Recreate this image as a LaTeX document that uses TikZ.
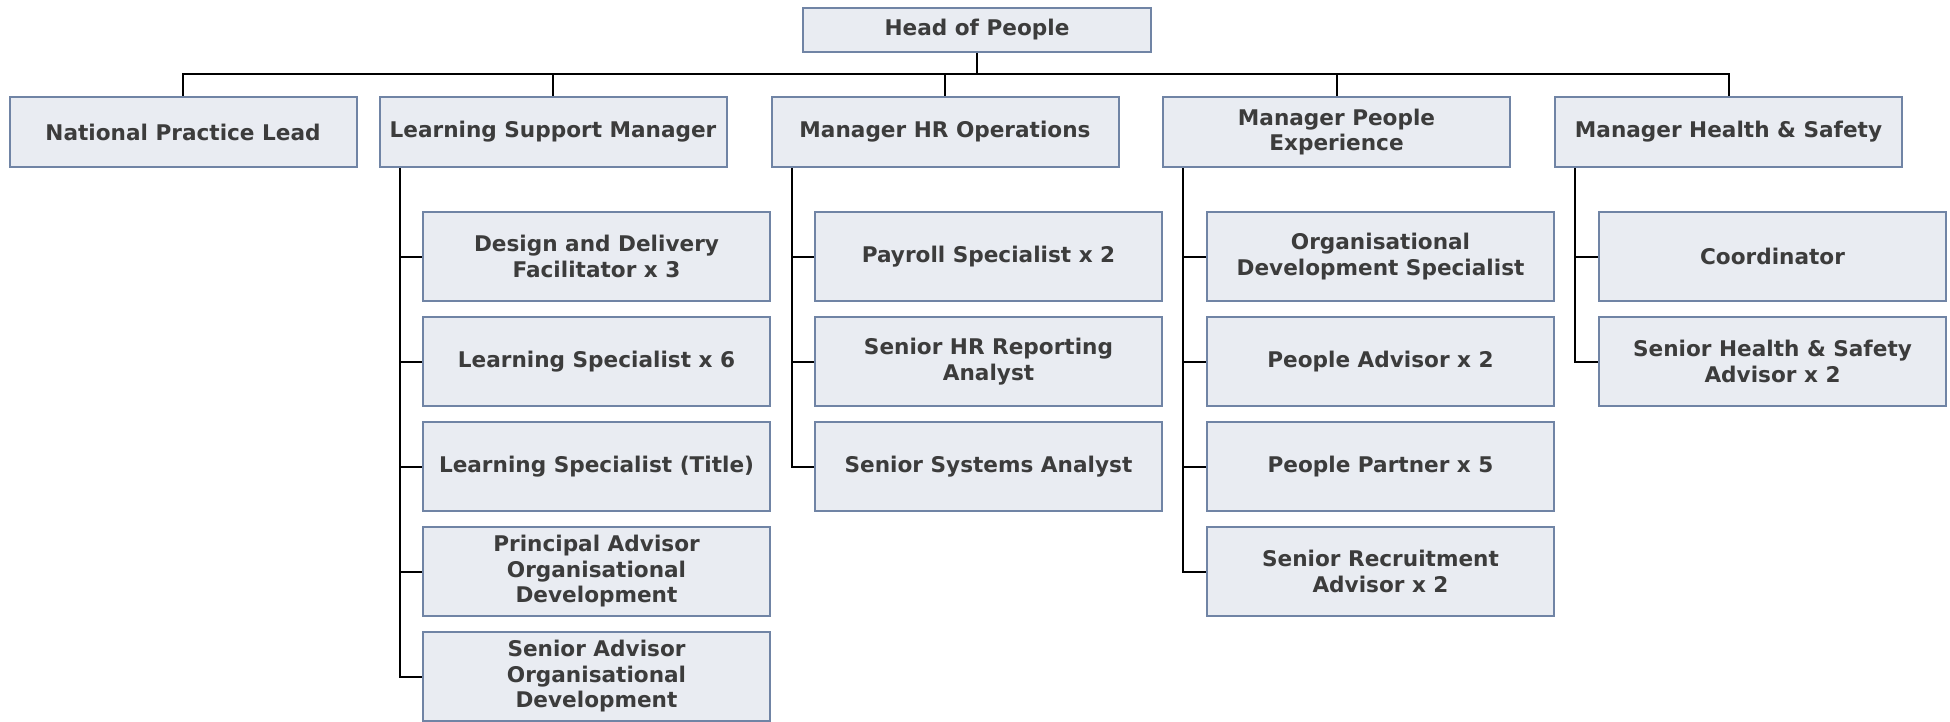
\documentclass[tikz,border=0pt]{standalone}
\usepackage{fontspec}
\setmainfont{DejaVu Sans}
\usetikzlibrary{positioning}
\definecolor{boxfill}{HTML}{E9ECF2}
\definecolor{boxline}{HTML}{7084A5}
\definecolor{boxtext}{HTML}{3C3C3C}
\tikzset{
  orgbox/.style={draw=boxline, fill=boxfill, line width=2pt, rectangle,
    minimum width=347pt, inner sep=0pt, align=center, text=boxtext,
    font=\fontsize{21.6}{25.5}\selectfont\bfseries},
  mgr/.style={orgbox, minimum height=70pt},
  sub/.style={orgbox, minimum height=89pt},
  link/.style={draw=black, line width=2pt}
}
\begin{document}
\begin{tikzpicture}[x=1pt,y=-1pt]
\useasboundingbox (0,0) rectangle (1950,721);
% head
\node[orgbox, minimum height=44pt, minimum width=348pt] (head) at (977,30) {Head of People};
% managers
\node[mgr] (npl) at (183,132) {National Practice Lead};
\node[mgr] (lsm) at (553,132) {Learning Support Manager};
\node[mgr] (hro) at (945,132) {Manager HR Operations};
\node[mgr] (mpe) at (1336.5,132) {Manager People\\Experience};
\node[mgr] (mhs) at (1728.5,132) {Manager Health \& Safety};
% LSM children
\node[sub] (l1) at (596.5,256.5) {Design and Delivery\\Facilitator x 3};
\node[sub] (l2) at (596.5,361.5) {Learning Specialist x 6};
\node[sub] (l3) at (596.5,466.5) {Learning Specialist (Title)};
\node[sub] (l4) at (596.5,571.5) {Principal Advisor\\Organisational\\Development};
\node[sub] (l5) at (596.5,676.5) {Senior Advisor\\Organisational\\Development};
% HRO children
\node[sub] (h1) at (988.5,256.5) {Payroll Specialist x 2};
\node[sub] (h2) at (988.5,361.5) {Senior HR Reporting\\Analyst};
\node[sub] (h3) at (988.5,466.5) {Senior Systems Analyst};
% MPE children
\node[sub] (p1) at (1380.5,256.5) {Organisational\\Development Specialist};
\node[sub] (p2) at (1380.5,361.5) {People Advisor x 2};
\node[sub] (p3) at (1380.5,466.5) {People Partner x 5};
\node[sub] (p4) at (1380.5,571.5) {Senior Recruitment\\Advisor x 2};
% MHS children
\node[sub] (s1) at (1772.5,256.5) {Coordinator};
\node[sub] (s2) at (1772.5,361.5) {Senior Health \& Safety\\Advisor x 2};
% bus
\coordinate (bus) at (977,74);
\draw[link] (head.south) -- (bus);
\foreach \m in {npl,lsm,hro,mpe,mhs}{
  \draw[link] (bus) -| (\m.north);
}
% spines
\foreach \m/\kids in {lsm/{l1,l2,l3,l4,l5}, hro/{h1,h2,h3}, mpe/{p1,p2,p3,p4}, mhs/{s1,s2}}{
  \foreach \k in \kids {
    \draw[link] ([xshift=21pt]\m.south west) |- (\k.west);
  }
}
\end{tikzpicture}
\end{document}
